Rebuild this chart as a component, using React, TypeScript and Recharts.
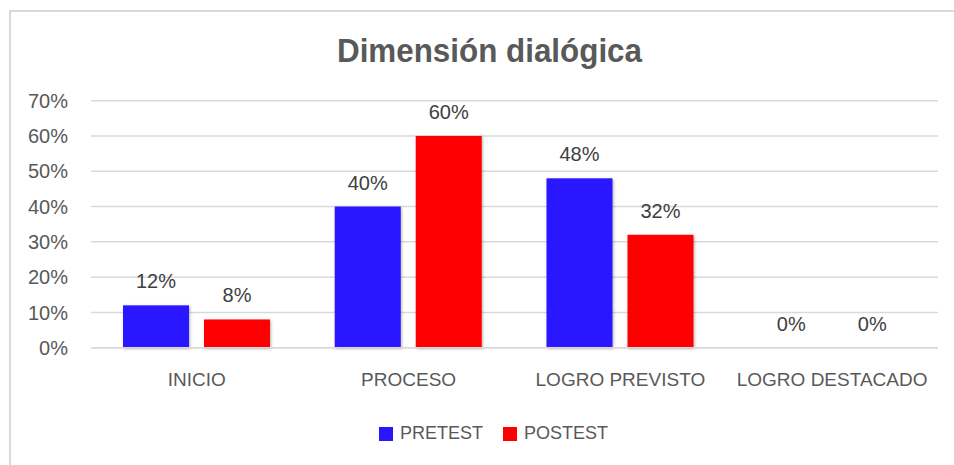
import { Bar, BarChart, CartesianGrid, LabelList, XAxis, YAxis } from 'recharts';

const categories = ['INICIO', 'PROCESO', 'LOGRO PREVISTO', 'LOGRO DESTACADO'];
const pretest = [12, 40, 48, 0];
const postest = [8, 60, 32, 0];
const yTicks = [0, 10, 20, 30, 40, 50, 60, 70];

const seriesInfo = [
    { key: 'pretest', name: 'PRETEST', color: '#2B14FF' },
    { key: 'postest', name: 'POSTEST', color: '#FF0000' },
];

const data = categories.map((name, i) => ({ name, pretest: pretest[i], postest: postest[i] }));

const font = '"Liberation Sans", Arial, sans-serif';
const gray = '#595959';

const ShadowBar = (props: any) => {
    const { x, y, width, height, fill } = props;
    if (!height || height <= 0) return null;
    return <rect x={x} y={y} width={width} height={height} fill={fill} filter="url(#barShadow)" />;
};

const LegendBox = () => (
    <div
        style={{
            position: 'absolute',
            left: 379,
            top: 423,
            display: 'flex',
            alignItems: 'center',
            gap: 20,
            fontFamily: font,
            fontSize: 18,
            color: gray,
        }}
    >
        {seriesInfo.map((s) => (
            <div key={s.key} style={{ display: 'flex', alignItems: 'center', gap: 7 }}>
                <span style={{ display: 'inline-block', width: 14, height: 14, background: s.color }} />
                <span>{s.name}</span>
            </div>
        ))}
    </div>
);

const App = () => {
    return (
        <div style={{ position: 'absolute', left: 0, top: 0, width: 954, height: 465, background: '#fff' }}>
            <div
                style={{
                    position: 'absolute',
                    left: 9,
                    top: 10,
                    width: 1000,
                    height: 500,
                    borderLeft: '2px solid #D9D9D9',
                    borderTop: '2px solid #D9D9D9',
                }}
            />
            <svg style={{ position: 'absolute', left: 0, top: 0 }} width={954} height={90}>
                <text
                    x={337}
                    y={62}
                    fontFamily={font}
                    fontWeight="bold"
                    fontSize={34}
                    fill={gray}
                    textLength={305}
                    lengthAdjust="spacingAndGlyphs"
                >
                    Dimensión dialógica
                </text>
            </svg>
            <div style={{ position: 'absolute', left: 0, top: 0 }}>
                <BarChart
                    width={954}
                    height={465}
                    data={data}
                    margin={{ top: 100.7, right: 16, bottom: 87.3, left: 31 }}
                    barGap={15}
                    barCategoryGap={32}
                >
                    <defs>
                        <filter id="barShadow" x="-20%" y="-20%" width="140%" height="140%">
                            <feDropShadow dx="1" dy="1" stdDeviation="1.5" floodColor="#000" floodOpacity="0.3" />
                        </filter>
                    </defs>
                    <CartesianGrid vertical={false} stroke="#D9D9D9" strokeWidth={1.5} />
                    <XAxis
                        dataKey="name"
                        height={30}
                        axisLine={{ stroke: '#D9D9D9', strokeWidth: 1.5 }}
                        tickLine={false}
                        tickSize={0}
                        tickMargin={25}
                        tick={{ fill: gray, fontSize: 19, fontFamily: font }}
                        interval={0}
                    />
                    <YAxis
                        width={60}
                        domain={[0, 70]}
                        ticks={yTicks}
                        tickFormatter={(v: number) => `${v}%`}
                        axisLine={false}
                        tickLine={false}
                        tickSize={0}
                        tickMargin={23}
                        tick={{ fill: gray, fontSize: 20, fontFamily: font }}
                    />
                    {seriesInfo.map((s) => (
                        <Bar
                            key={s.key}
                            dataKey={s.key}
                            name={s.name}
                            fill={s.color}
                            shape={<ShadowBar />}
                            isAnimationActive={false}
                        >
                            <LabelList
                                dataKey={s.key}
                                position="top"
                                offset={17}
                                formatter={(v: any) => `${v}%`}
                                style={{ fill: '#404040', fontSize: 20, fontFamily: font }}
                            />
                        </Bar>
                    ))}
                </BarChart>
            </div>
            <LegendBox />
        </div>
    );
};

export default App;
